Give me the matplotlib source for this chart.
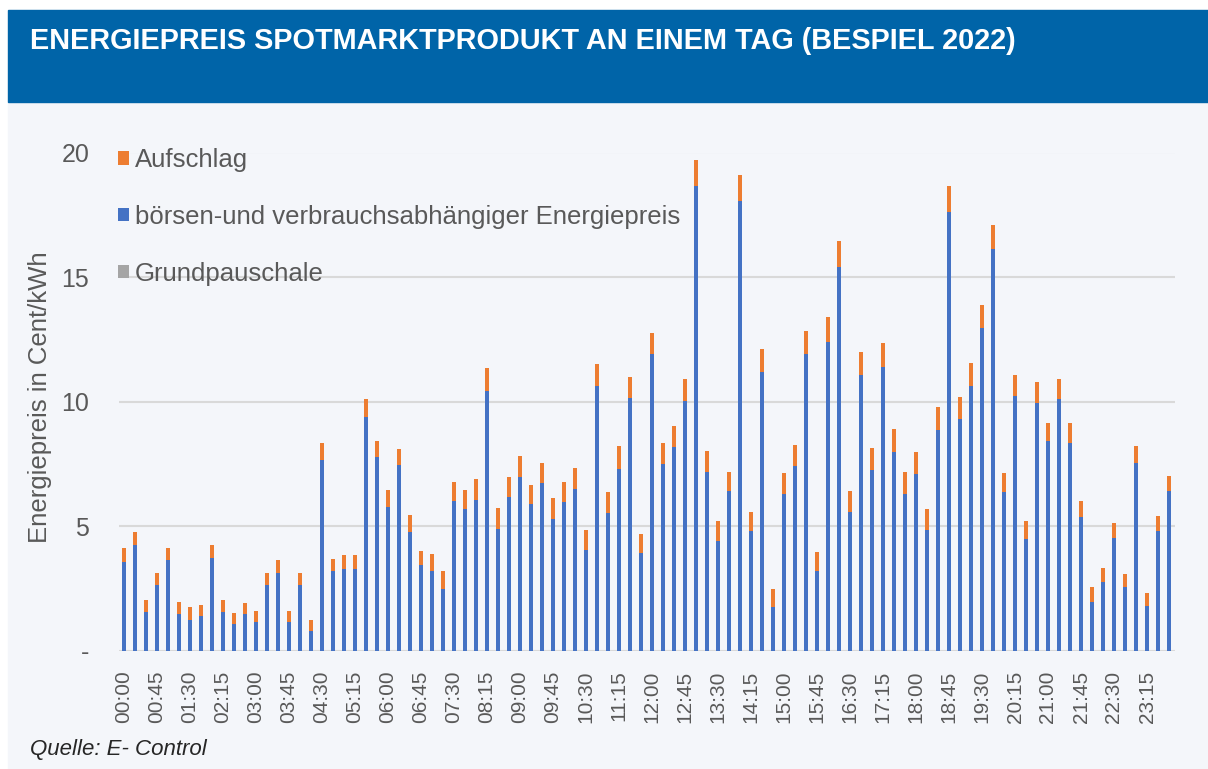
import matplotlib
matplotlib.use("Agg")
import matplotlib.pyplot as plt
import matplotlib.patches as patches
import numpy as np

plt.rcParams['font.family'] = ['Liberation Sans', 'DejaVu Sans']

# 15-minute slots of one day
zeiten = ["%02d:%02d" % (m // 60, m % 60) for m in range(0, 24 * 60, 15)]

# börsen- und verbrauchsabhängiger Energiepreis (Cent/kWh)
energiepreis = [
    3.59, 4.26, 1.58, 2.65, 3.64, 1.47, 1.26, 1.42, 3.75, 1.58, 1.10, 1.47,
    1.15, 2.64, 3.13, 1.15, 2.64, 0.82, 7.67, 3.19, 3.29, 3.29, 9.39, 7.78,
    5.78, 7.46, 4.79, 3.47, 3.20, 2.48, 6.01, 5.69, 6.06, 10.43, 4.90, 6.17,
    7.00, 5.90, 6.73, 5.29, 5.96, 6.51, 4.07, 10.64, 5.55, 7.32, 10.14, 3.93,
    11.90, 7.52, 8.20, 10.03, 18.67, 7.20, 4.42, 6.42, 18.06, 4.81, 11.19, 1.77,
    6.31, 7.41, 11.90, 3.20, 12.40, 15.39, 5.59, 11.07, 7.25, 11.39, 7.98, 6.31,
    7.09, 4.87, 8.86, 17.61, 9.30, 10.63, 12.96, 16.11, 6.37, 10.24, 4.48, 9.96,
    8.42, 10.13, 8.36, 5.36, 1.98, 2.76, 4.53, 2.55, 7.53, 1.82, 4.81, 6.42,
]

# Aufschlag (Cent/kWh)
aufschlag = [
    0.53, 0.53, 0.46, 0.48, 0.48, 0.50, 0.49, 0.44, 0.49, 0.46, 0.43, 0.44,
    0.44, 0.49, 0.51, 0.44, 0.49, 0.44, 0.67, 0.49, 0.57, 0.57, 0.71, 0.65,
    0.67, 0.65, 0.67, 0.55, 0.71, 0.71, 0.78, 0.76, 0.84, 0.94, 0.83, 0.83,
    0.83, 0.78, 0.82, 0.83, 0.83, 0.83, 0.78, 0.89, 0.83, 0.89, 0.87, 0.76,
    0.87, 0.83, 0.82, 0.88, 1.04, 0.83, 0.79, 0.78, 1.04, 0.78, 0.94, 0.71,
    0.83, 0.85, 0.94, 0.78, 0.99, 1.06, 0.83, 0.94, 0.89, 0.96, 0.93, 0.89,
    0.89, 0.83, 0.94, 1.05, 0.89, 0.94, 0.94, 0.99, 0.77, 0.82, 0.72, 0.83,
    0.71, 0.77, 0.77, 0.67, 0.57, 0.56, 0.62, 0.55, 0.71, 0.50, 0.61, 0.62,
]

# Grundpauschale (not visible in the chart)
grundpauschale = [0.0] * 96

y_ticks = [0, 5, 10, 15, 20]
y_ticklabels = ['-', '5', '10', '15', '20']

W, H = 1208, 769
fig = plt.figure(figsize=(W / 100, H / 100), dpi=100)
fig.patch.set_facecolor('white')

# panel + header band
fig.add_artist(patches.Rectangle((8 / W, 0), 1 - 8 / W, 1 - 102 / H,
                                 transform=fig.transFigure, color='#F4F6FA', zorder=0))
fig.add_artist(patches.Rectangle((8 / W, 1 - 102 / H), 1 - 8 / W, 92 / H,
                                 transform=fig.transFigure, color='#0064A8', zorder=0))
fig.text(30 / W, 1 - 41 / H, "ENERGIEPREIS SPOTMARKTPRODUKT AN EINEM TAG (BESPIEL 2022)",
         color='white', fontsize=20.8, fontweight='bold', va='center', ha='left')

ax = fig.add_axes([118.5 / W, 1 - 651 / H, 1056 / W, 498.5 / H])
ax.set_facecolor('none')

x = np.arange(len(zeiten))
gp = np.array(grundpauschale)
ep = np.array(energiepreis)
au = np.array(aufschlag)
w = 0.42
b_gray = ax.bar(x, gp, w, color='#A5A5A5', zorder=3)
b_blue = ax.bar(x, ep, w, bottom=gp, color='#4472C4', zorder=3)
b_orange = ax.bar(x, au, w, bottom=gp + ep, color='#ED7D31', zorder=3)

ax.set_xlim(-0.5, len(zeiten) - 0.5)
ax.set_ylim(0, 20)
ax.set_yticks(y_ticks)
ax.set_yticklabels(y_ticklabels)
ax.set_xticks(x[::3])
ax.set_xticklabels(zeiten[::3], rotation=90)
ax.tick_params(axis='both', length=0, colors='#595959')
ax.tick_params(axis='y', labelsize=18, pad=21)
ax.tick_params(axis='x', labelsize=15, pad=14)
for s in ax.spines.values():
    s.set_visible(False)
ax.yaxis.grid(True, color='#D9D9D9', linewidth=1.5, zorder=0)
ax.set_axisbelow(True)

fig.text(40 / W, 1 - 397 / H, "Energiepreis in Cent/kWh", rotation=90, fontsize=18.5,
         color='#595959', ha='center', va='center')

fig.legend([b_orange, b_blue, b_gray],
           ["Aufschlag", "börsen-und verbrauchsabhängiger Energiepreis", "Grundpauschale"],
           loc='upper left', bbox_to_anchor=(118 / W, 1 - 148 / H), frameon=False,
           fontsize=18.5, labelcolor='#595959', borderpad=0, borderaxespad=0,
           handlelength=0.43, handleheight=0.43, handletextpad=0.23, labelspacing=1.28)

fig.text(30 / W, 1 - 750 / H, "Quelle: E- Control", fontsize=16, style='italic',
         color='#262626', va='center', ha='left')

fig.savefig("out.png", dpi=100)
